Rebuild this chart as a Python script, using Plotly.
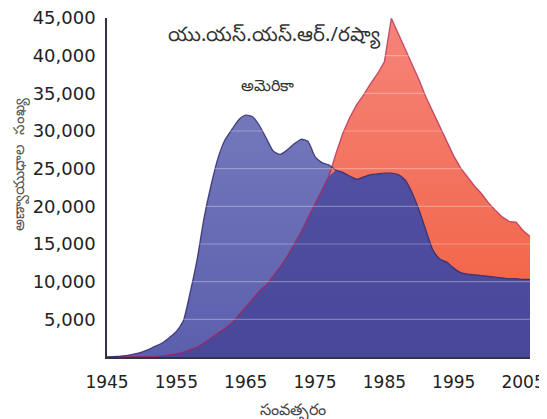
import plotly.graph_objects as go

years = list(range(1945, 2007))

usa = [0, 60, 120, 220, 400, 650, 1000, 1450, 1900, 2600,
       3400, 4800, 8600, 13000, 18500, 22800, 26400, 28800, 30200, 31500,
       32100, 31900, 30700, 29000, 27300, 26900, 27500, 28300, 28900, 28600,
       26600, 25800, 25500, 24800, 24500, 24000, 23600, 23900, 24200, 24300,
       24400, 24400, 24200, 23500, 21800, 19500, 16800, 14200, 13000, 12600,
       11800, 11200, 11000, 10900, 10800, 10700, 10600, 10500, 10400, 10400,
       10300, 10300]

ussr = [0, 0, 0, 0, 0, 20, 50, 80, 150, 250,
        400, 650, 950, 1300, 1900, 2500, 3100, 3800, 4500, 5500,
        6600, 7700, 8800, 9600, 10800, 12000, 13400, 15000, 16600, 18500,
        20300, 22000, 24000, 27000, 29700, 31800, 33500, 34800, 36300, 37600,
        39200, 45000, 43000, 41000, 39000, 36800, 34500, 32500, 30500, 28500,
        26700, 25100, 23900, 22700, 21700, 20500, 19500, 18600, 18000, 17900,
        16800, 16000]

overlap = [min(a, b) for a, b in zip(usa, ussr)]

y_ticks = [5000, 10000, 15000, 20000, 25000, 30000, 35000, 40000, 45000]
x_ticks = [1945, 1955, 1965, 1975, 1985, 1995, 2005]

label_ussr = "యు.యస్.యస్.ఆర్./రష్యా"
label_usa = "అమెరికా"
title_x = "సంవత్సరం"
title_y = "అణ్వాయుధాల  సంఖ్య"

fig = go.Figure()

fig.add_trace(go.Scatter(
    x=years, y=usa, mode="lines", fill="tozeroy",
    line=dict(color="rgba(0,0,0,0)", width=0, shape="spline", smoothing=0.6),
    fillgradient=dict(type="vertical", start=0, stop=33000,
                      colorscale=[[0, "#5c5fad"], [1, "#7478bb"]]),
    hoverinfo="skip", showlegend=False))

fig.add_trace(go.Scatter(
    x=years, y=ussr, mode="lines", fill="tozeroy",
    line=dict(color="rgba(0,0,0,0)", width=0),
    fillgradient=dict(type="vertical", start=0, stop=45000,
                      colorscale=[[0, "#f05f3e"], [0.3, "#f26a50"], [1, "#f5847a"]]),
    hoverinfo="skip", showlegend=False))

fig.add_trace(go.Scatter(
    x=years, y=overlap, mode="lines", fill="tozeroy",
    line=dict(color="rgba(0,0,0,0)", width=0),
    fillgradient=dict(type="vertical", start=0, stop=25000,
                      colorscale=[[0, "#48479a"], [1, "#524fa0"]]),
    hoverinfo="skip", showlegend=False))

fig.add_trace(go.Scatter(
    x=years, y=ussr, mode="lines",
    line=dict(color="rgba(170,30,80,0.7)", width=1.3),
    hoverinfo="skip", showlegend=False))
fig.add_trace(go.Scatter(
    x=years, y=usa, mode="lines",
    line=dict(color="rgba(50,45,110,0.85)", width=1.3, shape="spline", smoothing=0.6),
    hoverinfo="skip", showlegend=False))

shapes = []
for v in y_ticks:
    shapes.append(dict(type="line", xref="paper", yref="y", x0=0, x1=1, y0=v, y1=v,
                       line=dict(color="rgba(255,255,255,0.3)", width=1.2),
                       layer="above"))

annotations = [
    dict(x=1969.2, y=42800, text=label_ussr, showarrow=False,
         font=dict(size=20, color="#333333", family="Noto Sans, DejaVu Sans")),
    dict(x=1968.1, y=36100, text=label_usa, showarrow=False,
         font=dict(size=16, color="#333333", family="Noto Sans, DejaVu Sans")),
    dict(xref="paper", yref="paper", x=-0.2335, y=0.569, text=title_y, textangle=-90,
         xanchor="left", yanchor="middle",
         showarrow=False, font=dict(size=15, color="#555555")),
    dict(xref="paper", yref="paper", x=0.439, y=-0.1575, text=title_x,
         xanchor="center", yanchor="middle",
         showarrow=False, font=dict(size=16, color="#444444")),
]

fig.update_layout(
    width=539, height=411,
    margin=dict(l=99, r=17, t=10, b=62),
    paper_bgcolor="white", plot_bgcolor="white",
    shapes=shapes, annotations=annotations,
    font=dict(family="DejaVu Sans", color="#222222"),
    xaxis=dict(range=[1945, 2006], tickvals=x_ticks, ticktext=[str(t) for t in x_ticks],
               showgrid=False, zeroline=False, showline=True, linecolor="#333344",
               linewidth=1.5, ticks="", ticklabelstandoff=9, automargin=False,
               ticklabeloverflow="allow",
               tickfont=dict(size=17, color="#222222")),
    yaxis=dict(range=[0, 45000], tickvals=y_ticks, tickformat=",d",
               showgrid=False, zeroline=False, showline=True, linecolor="#333344",
               linewidth=1.5, ticks="", ticklabelstandoff=6, automargin=False,
               ticklabeloverflow="allow",
               tickfont=dict(size=18, color="#222222")),
)

fig.write_html("out.html")
